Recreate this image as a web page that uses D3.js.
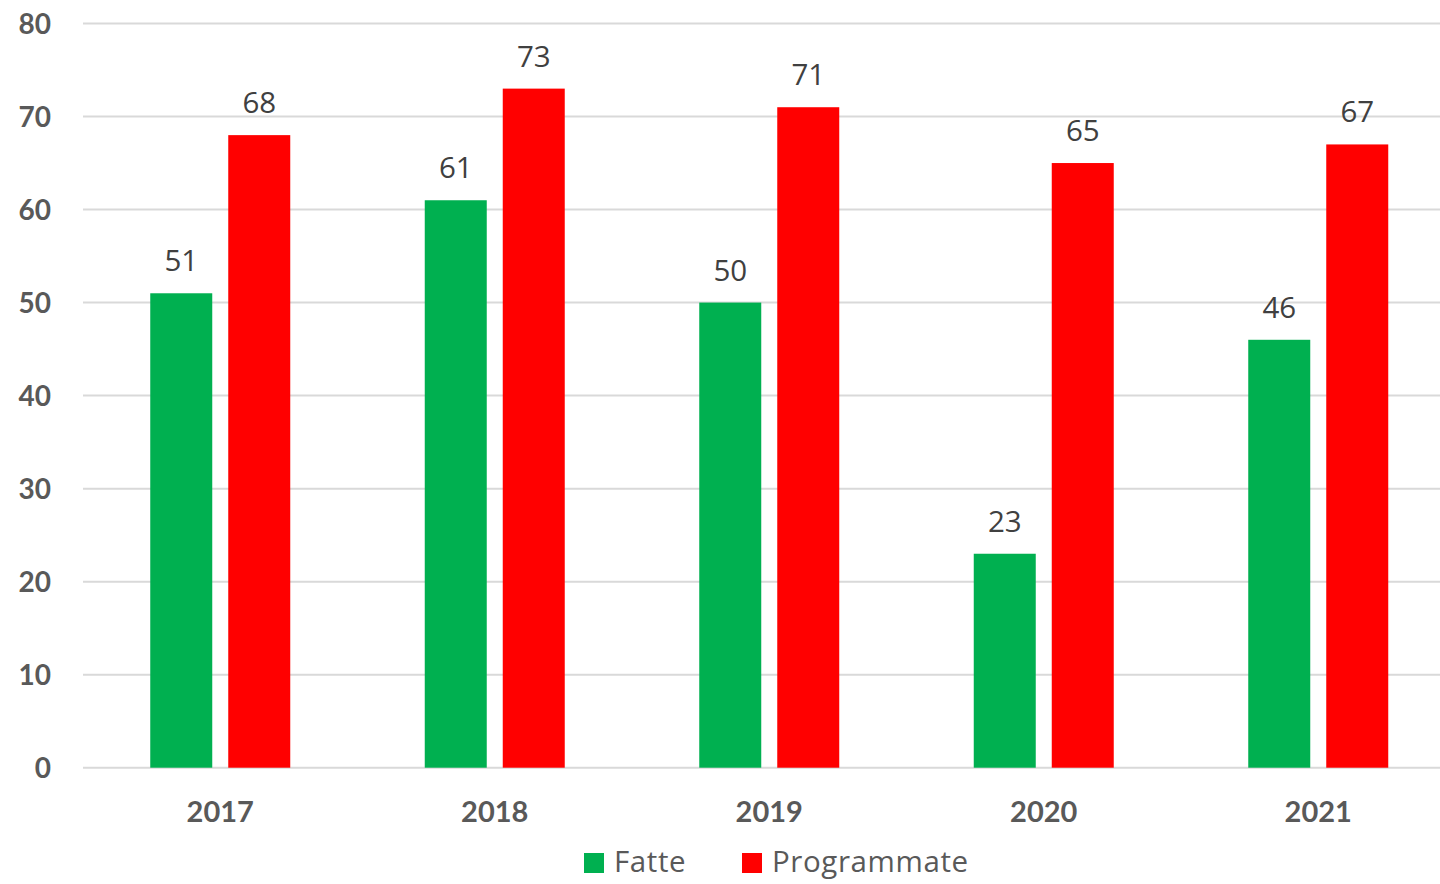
<!DOCTYPE html>
<html><head><meta charset="utf-8">
<script src="https://cdn.jsdelivr.net/npm/d3@7/dist/d3.min.js"></script>
<style>body{margin:0;background:#fff}svg{display:block}</style>
</head><body>
<script>
const categories = ["2017","2018","2019","2020","2021"];
const fatte = [51,61,50,23,46];
const programmate = [68,73,71,65,67];
const yTicks = [0,10,20,30,40,50,60,70,80];
const seriesNames = ["Fatte","Programmate"];
const colors = ["#00B050","#FF0000"];

const W=1440,H=884;
const svg=d3.select("body").append("svg").attr("width",W).attr("height",H);
const font="Lato, 'Open Sans', sans-serif";
const font2="'Open Sans', sans-serif";
const x=d3.scaleBand().domain(categories).range([83,1455.5]);
const y=d3.scaleLinear().domain([0,80]).range([767.7,23.5]);

svg.append("g").selectAll("line").data(yTicks).join("line")
  .attr("x1",83).attr("x2",1440).attr("y1",d=>y(d)).attr("y2",d=>y(d))
  .attr("stroke","#d9d9d9").attr("stroke-width",2);

svg.append("g").selectAll("text").data(yTicks).join("text")
  .attr("x",51).attr("y",d=>y(d)).attr("dy","0.36em").attr("text-anchor","end")
  .attr("font-family",font).attr("font-weight","bold").attr("font-size",28).attr("fill","#595959")
  .text(d=>d);

const series=[fatte,programmate];
series.forEach((vals,si)=>{
  const off = si===0 ? -70 : 8;
  const g=svg.append("g");
  g.selectAll("rect").data(categories).join("rect")
    .attr("x",(c)=>x(c)+x.bandwidth()/2+off).attr("width",62)
    .attr("y",(c,i)=>y(vals[i])).attr("height",(c,i)=>y(0)-y(vals[i]))
    .attr("fill",colors[si]);
  g.selectAll("text").data(categories).join("text")
    .attr("x",(c)=>x(c)+x.bandwidth()/2+off+31).attr("y",(c,i)=>y(vals[i])-22)
    .attr("text-anchor","middle").attr("font-family",font2).attr("font-size",29.5).attr("fill","#404040")
    .text((c,i)=>vals[i]);
});

svg.append("g").selectAll("text").data(categories).join("text")
  .attr("x",c=>x(c)+x.bandwidth()/2).attr("y",822).attr("text-anchor","middle")
  .attr("font-family",font).attr("font-weight","bold").attr("font-size",29).attr("fill","#595959")
  .text(c=>c);

const legX=[584,742];
seriesNames.forEach((n,i)=>{
  svg.append("rect").attr("x",legX[i]).attr("y",853).attr("width",20).attr("height",20).attr("fill",colors[i]);
  svg.append("text").attr("x",legX[i]+30).attr("y",871.5).attr("font-family",font2).attr("font-size",29.5)
    .attr("letter-spacing",0.6).attr("fill","#595959").text(n);
});
</script>
</body></html>
